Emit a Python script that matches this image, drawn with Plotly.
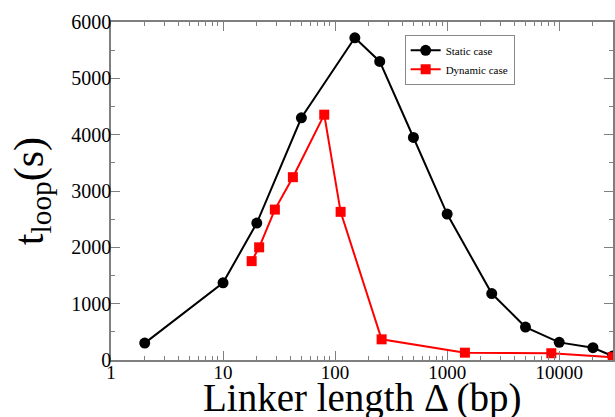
import plotly.graph_objects as go

static_x = [2, 10, 20, 50, 150, 250, 500, 1000, 2500, 5000, 10000, 20000, 30000]
static_y = [300, 1370, 2430, 4300, 5720, 5300, 3950, 2590, 1180, 585, 313, 218, 70]
dyn_x = [18, 21, 29, 42, 80, 112, 260, 1440, 8500, 30000]
dyn_y = [1755, 2000, 2670, 3245, 4355, 2630, 367, 130, 120, 50]

x_major = [1, 10, 100, 1000, 10000]
x_labels = ["1", "10", "100", "1000", "10000"]
x_minor = [m * d for d in [1, 10, 100, 1000, 10000] for m in range(2, 10) if m * d <= 30000]
y_major = [0, 1000, 2000, 3000, 4000, 5000, 6000]

font = "Liberation Serif"
axcol = "#7f7f7f"

fig = go.Figure()
fig.add_trace(go.Scatter(x=static_x, y=static_y, mode="lines+markers", name="Static case",
                         line=dict(color="black", width=2),
                         marker=dict(symbol="circle", size=11, color="black")))
fig.add_trace(go.Scatter(x=dyn_x, y=dyn_y, mode="lines+markers", name="Dynamic case",
                         line=dict(color="#ff0000", width=2),
                         marker=dict(symbol="square", size=10, color="#ff0000")))

fig.update_layout(
    width=615, height=417,
    margin=dict(l=111, r=2, t=22, b=57, autoexpand=False),
    plot_bgcolor="white", paper_bgcolor="white",
    font=dict(family=font, color="black"),
    showlegend=True,
    legend=dict(x=0.585, y=0.962, xanchor="left", yanchor="top",
                bordercolor="#888888", borderwidth=1, bgcolor="white",
                font=dict(family=font, size=11), tracegroupgap=0,
                itemwidth=30),
    xaxis=dict(type="log", range=[0, 4.48], automargin=False,
               tickmode="array", tickvals=x_major, ticktext=x_labels,
               ticks="inside", ticklen=9, tickwidth=1, tickcolor=axcol,
               minor=dict(tickvals=x_minor, ticks="inside", ticklen=4, tickcolor=axcol, tickwidth=1),
               showline=True, linecolor=axcol, linewidth=1.5, mirror="ticks",
               showgrid=False, zeroline=False,
               ticklabelposition="outside", ticklabelstandoff=-6,
               tickfont=dict(family=font, size=19)),
    yaxis=dict(range=[0, 6000], automargin=False,
               tickmode="array", tickvals=y_major,
               ticks="inside", ticklen=9, tickwidth=1, tickcolor=axcol,
               minor=dict(dtick=500, ticks="inside", ticklen=4, tickcolor=axcol, tickwidth=1),
               showline=True, linecolor=axcol, linewidth=1.5, mirror="ticks",
               showgrid=False, zeroline=False,
               ticklabelposition="outside", ticklabelstandoff=-6,
               tickfont=dict(family=font, size=20),
               title=dict(text="t<sub>loop</sub>(s)", font=dict(family=font, size=42))),
    annotations=[dict(text="Linker length Δ (bp)", xref="paper", yref="paper",
                      x=0.5, y=-0.04, xanchor="center", yanchor="top", showarrow=False,
                      font=dict(family=font, size=39))],
)

fig.write_html("out.html", config={"displayModeBar": False},
               post_script="document.body.style.margin='0';document.body.style.overflow='hidden';")
